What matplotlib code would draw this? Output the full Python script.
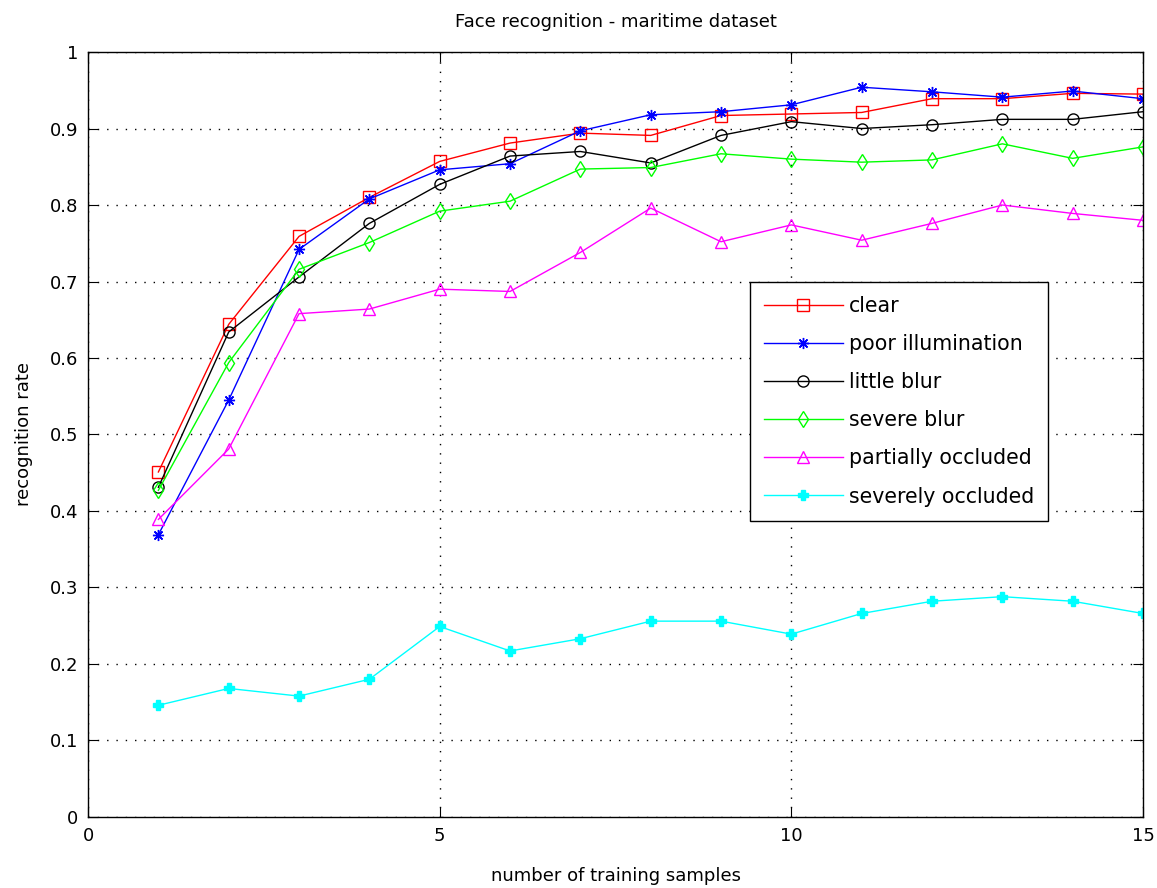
import matplotlib

matplotlib.use("Agg")
import matplotlib.pyplot as plt

# recognition rate vs number of training samples
samples = list(range(1, 16))
clear = [0.451, 0.644, 0.759, 0.810, 0.857, 0.881, 0.894, 0.891, 0.917, 0.919, 0.921, 0.939, 0.939, 0.946, 0.945]
poor_illum = [0.369, 0.545, 0.742, 0.808, 0.846, 0.854, 0.897, 0.918, 0.922, 0.931, 0.954, 0.948, 0.941, 0.949, 0.939]
little_blur = [0.431, 0.634, 0.706, 0.776, 0.827, 0.864, 0.870, 0.855, 0.891, 0.909, 0.900, 0.905, 0.912, 0.912, 0.922]
severe_blur = [0.427, 0.594, 0.716, 0.751, 0.792, 0.805, 0.847, 0.849, 0.867, 0.860, 0.856, 0.859, 0.880, 0.861, 0.876]
part_occl = [0.389, 0.481, 0.658, 0.664, 0.690, 0.687, 0.738, 0.796, 0.752, 0.774, 0.754, 0.776, 0.800, 0.789, 0.780]
sev_occl = [0.146, 0.168, 0.158, 0.180, 0.249, 0.217, 0.233, 0.256, 0.256, 0.239, 0.266, 0.282, 0.288, 0.282, 0.266]

labels = ["clear", "poor illumination", "little blur", "severe blur",
          "partially occluded", "severely occluded"]
yticks = [0, 0.1, 0.2, 0.3, 0.4, 0.5, 0.6, 0.7, 0.8, 0.9, 1]
ytick_labels = ["0", "0.1", "0.2", "0.3", "0.4", "0.5", "0.6", "0.7", "0.8", "0.9", "1"]
xticks = [0, 5, 10, 15]

plt.rcParams["font.family"] = ["DejaVu Sans"]

fig = plt.figure(figsize=(11.57, 8.88), dpi=100)
ax = fig.add_axes([0.0761, 0.0800, 0.9118, 0.8614])

series = [clear, poor_illum, little_blur, severe_blur, part_occl, sev_occl]
styles = [
    dict(color="#ff0000", marker="s", ms=8, mfc="none"),
    dict(color="#0000ff", marker=(8, 2, 0), ms=8),
    dict(color="#000000", marker="o", ms=8, mfc="none"),
    dict(color="#00ff00", marker="d", ms=8, mfc="none"),
    dict(color="#ff00ff", marker="^", ms=8, mfc="none"),
    dict(color="#00ffff", marker="P", ms=7),
]
for vals, lab, st in zip(series, labels, styles):
    ax.plot(samples, vals, lw=1.0, mew=1.0, label=lab, **st)

ax.set_xlim(0, 15)
ax.set_ylim(0, 1)
ax.set_xticks(xticks)
ax.set_yticks(yticks)
ax.set_yticklabels(ytick_labels)
ax.tick_params(direction="in", top=True, right=True, length=7, labelsize=13, pad=7)
ax.grid(True, linestyle=(0, (1, 5.7)), color="black", lw=1.0)
for sp in ax.spines.values():
    sp.set_linewidth(1.0)

ax.set_title("Face recognition - maritime dataset", fontsize=13, pad=18)
ax.set_xlabel("number of training samples", fontsize=13, labelpad=16)
ax.set_ylabel("recognition rate", fontsize=13, labelpad=12)

leg = ax.legend(loc="lower left", bbox_to_anchor=(0.6275, 0.387), fontsize=14.8,
                handlelength=3.8, handletextpad=0.3, labelspacing=0.88, borderpad=0.7,
                borderaxespad=0, fancybox=False, framealpha=1, edgecolor="black")
leg.get_frame().set_linewidth(1.0)

fig.savefig("out.png", dpi=100)
